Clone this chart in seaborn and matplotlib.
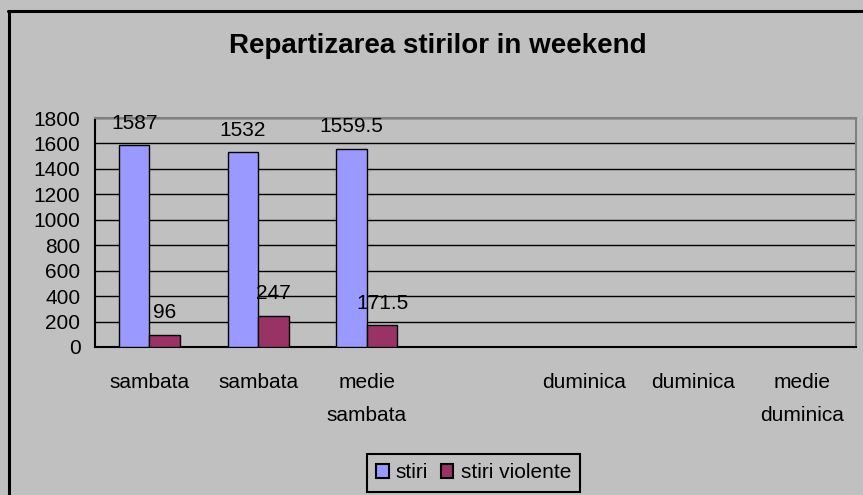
import matplotlib
matplotlib.use("Agg")
import matplotlib.pyplot as plt
from matplotlib.lines import Line2D
from matplotlib.patches import Patch
import seaborn as sns
import pandas as pd

# Categories (label text per slot; the fourth slot is an empty separator)
category_labels = ["sambata", "sambata", "medie\nsambata", "",
                   "duminica", "duminica", "medie\nduminica"]
series_names = ["stiri", "stiri violente"]
stiri = [1587, 1532, 1559.5]
stiri_violente = [96, 247, 171.5]
y_ticks = [0, 200, 400, 600, 800, 1000, 1200, 1400, 1600, 1800]

BG = "#C0C0C0"
COLORS = ["#9999FF", "#993366"]
FS = 15

sns.set_style("white")
plt.rcParams["font.family"] = ["Liberation Sans", "DejaVu Sans"]
plt.rcParams["text.color"] = "black"
plt.rcParams["xtick.color"] = "black"
plt.rcParams["ytick.color"] = "black"
plt.rcParams["axes.labelcolor"] = "black"

keys = [str(i) for i in range(len(category_labels))]
rows = []
for i, v in enumerate(stiri):
    rows.append({"cat": keys[i], "serie": series_names[0], "val": v})
for i, v in enumerate(stiri_violente):
    rows.append({"cat": keys[i], "serie": series_names[1], "val": v})
df = pd.DataFrame(rows)

fig = plt.figure(figsize=(8.63, 4.95), dpi=100, facecolor=BG)
ax = fig.add_axes([95 / 863, 1 - 347 / 495, (856 - 95) / 863, (347 - 118) / 495])
ax.set_facecolor(BG)

sns.barplot(data=df, x="cat", y="val", hue="serie", order=keys,
            hue_order=series_names, palette=COLORS, width=0.56, gap=0,
            edgecolor="black", linewidth=1.0, saturation=1, ax=ax,
            legend=False, zorder=3)

# value labels above bars
for cont in ax.containers:
    ax.bar_label(cont, fmt="{:g}", padding=9, fontsize=FS, color="black")

# axes scaling
ax.set_xlim(-0.5, len(keys) - 0.5)
ax.set_ylim(0, 1800)
ax.set_yticks(y_ticks)
ax.set_yticklabels([str(t) for t in y_ticks], fontsize=FS)
ax.yaxis.grid(True, color="black", linewidth=1.0)
ax.set_axisbelow(True)

# category boundaries carry the tick marks, centers carry the labels
ax.set_xticks([i - 0.5 for i in range(len(keys) + 1)])
ax.set_xticklabels([])
ax.set_xticks(range(len(keys)), minor=True)
ax.set_xticklabels(category_labels, minor=True, fontsize=FS, linespacing=1.92)
ax.tick_params(axis="x", which="major", direction="out", length=5, width=1.5, color="black")
ax.tick_params(axis="x", which="minor", length=0, pad=19)
ax.tick_params(axis="y", direction="out", length=5, width=1.5, color="black", pad=5.5)
ax.set_xlabel("")
ax.set_ylabel("")

for side in ["top", "right"]:
    ax.spines[side].set_color("#808080")
    ax.spines[side].set_linewidth(1.5)
for side in ["left", "bottom"]:
    ax.spines[side].set_color("black")
    ax.spines[side].set_linewidth(1.5)

fig.text(437.5 / 863, 1 - 46 / 495, "Repartizarea stirilor in weekend",
         ha="center", va="center", fontsize=20, fontweight="bold", color="black")

handles = [Patch(facecolor=c, edgecolor="black", linewidth=1.5) for c in COLORS]
leg = fig.legend(handles, series_names, loc="upper center",
                 bbox_to_anchor=(473.5 / 863, 1 - 454 / 495), ncol=2,
                 fontsize=FS, frameon=True, fancybox=False, framealpha=1,
                 facecolor=BG, edgecolor="black", handlelength=0.6,
                 handleheight=0.6, handletextpad=0.35, columnspacing=0.6,
                 borderpad=0.45, borderaxespad=0)
leg.get_frame().set_linewidth(1.5)

# chart border (left and top edges)
fig.add_artist(Line2D([8.5 / 863, 8.5 / 863], [0, 1 - 10.5 / 495],
                      transform=fig.transFigure, color="black", linewidth=2.2))
fig.add_artist(Line2D([7.5 / 863, 1], [1 - 10.5 / 495, 1 - 10.5 / 495],
                      transform=fig.transFigure, color="black", linewidth=2.2))

fig.savefig("out.png", dpi=100, facecolor=BG)
